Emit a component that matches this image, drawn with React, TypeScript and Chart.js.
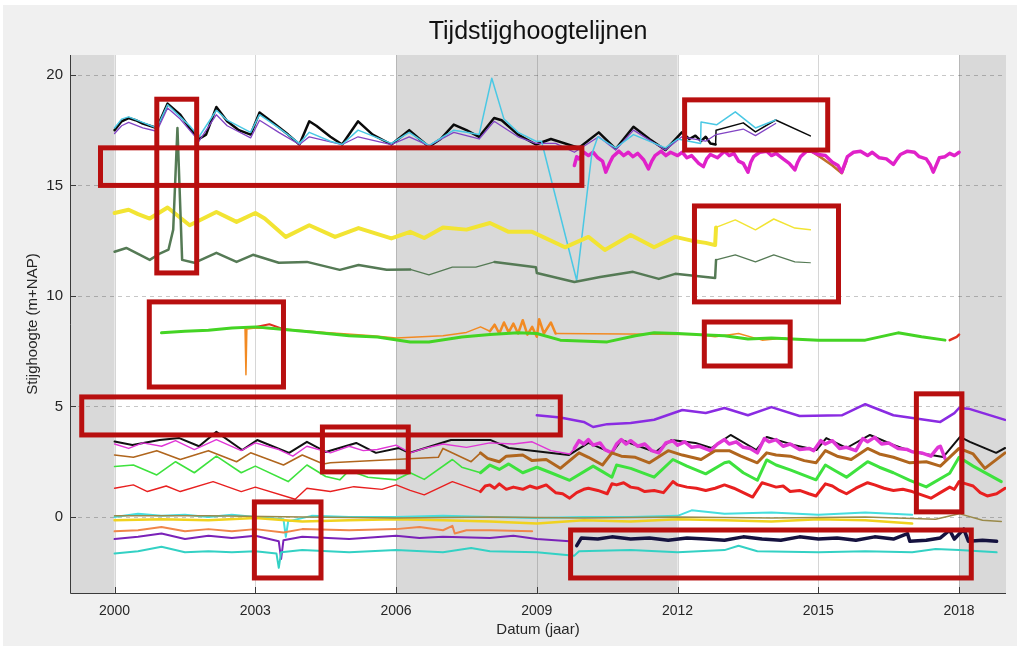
import React, { useEffect, useRef } from 'react';
import { Chart, registerables } from 'chart.js';

Chart.register(...registerables);

type Pts = [number, number][];

const TITLE = 'Tijdstijghoogtelijnen';
const X_LABEL = 'Datum (jaar)';
const Y_LABEL = 'Stijghoogte (m+NAP)';
const X_TICKS = [2000, 2003, 2006, 2009, 2012, 2015, 2018];
const Y_TICKS = [0, 5, 10, 15, 20];
const X_MIN = 1999.05;
const X_MAX = 2019.0;
const Y_MIN = -3.44;
const Y_MAX = 20.9;
const GREY_PERIODS: [number, number][] = [[1999.05, 2000], [2006, 2012], [2018, 2019]];
// [x1, x2, y1, y2] in data units
const HIGHLIGHT_BOXES: [number, number, number, number][] = [
  [2000.9, 2001.75, 11.04, 18.9],
  [1999.7, 2009.96, 15.0, 16.7],
  [2012.15, 2015.2, 16.6, 18.87],
  [2012.36, 2015.43, 9.73, 14.07],
  [2000.74, 2003.6, 5.88, 9.73],
  [2012.57, 2014.4, 6.83, 8.82],
  [1999.3, 2009.5, 3.71, 5.43],
  [2004.43, 2006.26, 2.04, 4.07],
  [2017.09, 2018.06, 0.23, 5.57],
  [2002.98, 2004.4, -2.76, 0.68],
  [2009.72, 2018.26, -2.76, -0.59],
];

// ---------- series (year, m+NAP) ----------
const topBlack: Pts = [[2000.0,17.5],[2000.15,17.9],[2000.3,18.05],[2000.45,17.95],[2000.6,17.8],[2000.9,17.6],[2001.13,18.7],[2001.4,18.2],[2001.6,17.6],[2001.8,17.1],[2001.95,17.3],[2002.17,18.55],[2002.4,17.9],[2002.65,17.5],[2002.9,17.3],[2003.09,18.3],[2003.4,17.8],[2003.7,17.3],[2003.94,16.85],[2004.15,17.9],[2004.3,17.7],[2004.6,17.2],[2004.85,16.85],[2005.19,17.9],[2005.5,17.3],[2005.9,16.85],[2006.28,17.5],[2006.5,17.1],[2006.7,16.75],[2006.95,17.1],[2007.23,17.75],[2007.5,17.5],[2007.77,17.2],[2008.09,18.05],[2008.25,17.95],[2008.6,17.3],[2008.98,16.85],[2009.3,17.1],[2009.9,16.7],[2010.32,17.4],[2010.68,16.65],[2011.06,17.65],[2011.4,17.1],[2011.74,16.6],[2012.09,17.4],[2012.25,17.1],[2012.38,17.25],[2012.5,17.0],[2012.6,17.2],[2012.7,16.9],[2012.81,16.85],[2012.82,17.5],[2013.4,17.83],[2013.66,17.42],[2014.09,17.96],[2014.83,17.24]];
const topCyan: Pts = [[2000.0,17.6],[2000.15,18.0],[2000.3,18.1],[2000.6,17.85],[2000.9,17.6],[2001.13,18.65],[2001.4,18.1],[2001.6,17.7],[2001.8,17.2],[2002.17,18.4],[2002.4,17.95],[2002.9,17.4],[2003.09,18.2],[2003.5,17.6],[2003.94,16.9],[2004.15,17.4],[2004.6,17.0],[2004.85,16.85],[2005.19,17.5],[2005.9,16.9],[2006.28,17.4],[2006.7,16.8],[2007.0,17.2],[2007.23,17.5],[2007.5,17.4],[2007.77,17.3],[2008.04,19.85],[2008.3,18.0],[2008.6,17.4],[2008.98,17.0],[2009.1,17.0],[2009.85,10.7],[2010.17,16.4],[2010.3,17.2],[2010.68,16.7],[2011.06,17.3],[2011.74,16.7],[2012.0,17.1],[2012.49,16.9],[2012.5,17.87],[2012.83,17.74],[2013.23,18.33],[2013.66,17.6],[2014.09,17.96]];
const topPurple: Pts = [[2000.0,17.35],[2000.15,17.7],[2000.3,17.85],[2000.6,17.6],[2000.9,17.45],[2001.13,18.5],[2001.4,18.0],[2001.6,17.5],[2001.8,17.0],[2002.17,18.2],[2002.4,17.7],[2002.9,17.15],[2003.09,17.95],[2003.5,17.4],[2003.94,16.85],[2004.15,17.2],[2004.85,16.85],[2005.19,17.2],[2005.9,16.85],[2006.28,17.2],[2006.7,16.8],[2007.23,17.4],[2007.77,17.1],[2008.09,17.9],[2008.6,17.2],[2008.98,16.9],[2009.4,16.9],[2009.8,16.5],[2010.32,17.2],[2010.68,16.6],[2011.06,17.5],[2011.74,16.6],[2012.09,17.2],[2012.6,17.0],[2012.82,17.3],[2013.4,17.55],[2013.66,17.25],[2014.09,17.8]];
const topMagenta: Pts = [[2009.8,15.9],[2009.85,16.3],[2009.9,16.2],[2010.0,16.5],[2010.1,16.35],[2010.2,16.5],[2010.3,16.25],[2010.4,16.1],[2010.47,15.6],[2010.55,16.0],[2010.62,16.3],[2010.75,16.55],[2010.85,16.35],[2010.95,16.5],[2011.05,16.3],[2011.15,16.45],[2011.28,16.15],[2011.38,15.75],[2011.45,16.1],[2011.52,16.35],[2011.65,16.55],[2011.75,16.35],[2011.85,16.5],[2012.0,16.35],[2012.1,16.5],[2012.2,16.25],[2012.3,16.35],[2012.45,16.0],[2012.55,15.85],[2012.62,16.2],[2012.7,16.4],[2012.85,16.25],[2013.0,16.55],[2013.1,16.35],[2013.2,16.45],[2013.3,16.1],[2013.4,16.0],[2013.5,15.6],[2013.56,16.05],[2013.62,16.3],[2013.75,16.5],[2013.9,16.55],[2014.0,16.35],[2014.1,16.45],[2014.25,16.2],[2014.38,16.0],[2014.5,15.7],[2014.56,16.05],[2014.62,16.3],[2014.75,16.55],[2014.85,16.55],[2015.0,16.4],[2015.15,16.35],[2015.3,16.05],[2015.42,15.9],[2015.5,15.6],[2015.56,15.95],[2015.62,16.3],[2015.75,16.5],[2015.9,16.55],[2016.05,16.35],[2016.15,16.5],[2016.3,16.25],[2016.45,16.2],[2016.6,15.95],[2016.68,16.2],[2016.75,16.4],[2016.9,16.55],[2017.05,16.5],[2017.15,16.3],[2017.3,16.2],[2017.38,15.95],[2017.45,15.6],[2017.52,15.95],[2017.58,16.25],[2017.7,16.3],[2017.8,16.45],[2017.9,16.35],[2018.0,16.5]];
const topBrown: Pts = [[2014.85,16.55],[2015.1,16.2],[2015.3,15.9],[2015.5,15.55],[2015.6,16.1]];
const topYellow: Pts = [[2000.0,13.75],[2000.3,13.9],[2000.5,13.7],[2000.75,13.5],[2001.13,14.0],[2001.6,13.2],[2002.17,13.8],[2002.6,13.35],[2003.0,13.75],[2003.2,13.5],[2003.65,12.67],[2004.15,13.2],[2004.7,12.67],[2005.2,13.07],[2005.9,12.6],[2006.3,12.9],[2006.6,12.62],[2007.0,13.1],[2007.5,13.0],[2008.0,13.3],[2008.4,12.9],[2008.9,12.9],[2009.6,12.2],[2010.1,12.67],[2010.45,12.08],[2011.0,12.76],[2011.5,12.2],[2011.95,12.67],[2012.3,12.5],[2012.6,12.4],[2012.8,12.3],[2012.82,13.1],[2013.23,13.44],[2013.66,12.99],[2014.05,13.48],[2014.5,13.07],[2014.83,12.99]];
const darkGreen: Pts = [[2000.0,12.0],[2000.25,12.17],[2000.5,11.9],[2000.75,11.63],[2000.95,11.9],[2001.15,12.1],[2001.25,13.0],[2001.34,17.6],[2001.44,11.63],[2001.7,11.5],[2002.17,11.95],[2002.6,11.54],[2002.95,11.86],[2003.5,11.5],[2004.1,11.54],[2004.8,11.18],[2005.2,11.4],[2005.8,11.18],[2006.3,11.2],[2006.7,10.95],[2007.2,11.3],[2007.7,11.3],[2008.1,11.54],[2008.98,11.3],[2009.0,11.04],[2009.8,10.63],[2010.35,10.86],[2011.05,11.09],[2011.6,10.77],[2011.95,11.0],[2012.8,10.81],[2012.82,11.63],[2013.23,11.86],[2013.66,11.54],[2014.05,11.86],[2014.5,11.54],[2014.83,11.5]];
const midGreen: Pts = [[2001.0,8.33],[2001.5,8.4],[2002.0,8.45],[2002.5,8.55],[2003.0,8.6],[2003.5,8.5],[2004.2,8.37],[2005.0,8.2],[2005.6,8.14],[2006.3,7.92],[2006.7,7.92],[2007.4,8.14],[2008.0,8.25],[2008.6,8.33],[2009.0,8.3],[2009.5,8.0],[2010.5,7.92],[2011.1,8.2],[2011.5,8.33],[2012.0,8.3],[2012.5,8.24],[2013.0,8.2],[2013.5,8.05],[2014.0,8.1],[2015.0,8.0],[2016.0,8.0],[2016.7,8.33],[2017.2,8.15],[2017.7,8.0]];
const midOrange: Pts = [[2002.7,8.55],[2002.78,8.55],[2002.8,6.43],[2002.82,8.5],[2003.0,8.55],[2003.6,8.5],[2004.5,8.35],[2005.5,8.2],[2006.0,8.1],[2007.0,8.2],[2007.5,8.35],[2007.8,8.6],[2008.0,8.4],[2008.1,8.7],[2008.2,8.3],[2008.3,8.8],[2008.4,8.35],[2008.5,8.75],[2008.6,8.3],[2008.7,8.9],[2008.8,8.25],[2008.9,8.6],[2009.0,8.15],[2009.05,8.95],[2009.15,8.3],[2009.3,8.8],[2009.4,8.3],[2012.4,8.25],[2012.8,8.15],[2013.3,8.3],[2013.8,8.0],[2014.3,8.1]];
const midRed: Pts = [[2002.9,8.55],[2003.3,8.72],[2003.6,8.5]];
const midRedEnd: Pts = [[2017.8,8.0],[2017.95,8.15],[2018.0,8.25]];
const violet: Pts = [[2009.0,4.6],[2009.5,4.5],[2010.0,4.3],[2010.2,4.07],[2010.5,4.2],[2011.0,4.25],[2011.5,4.4],[2012.1,4.84],[2012.6,4.7],[2013.0,4.93],[2013.5,4.6],[2014.0,4.97],[2014.6,4.57],[2015.5,4.6],[2016.0,5.1],[2016.6,4.6],[2017.6,4.3],[2017.9,4.7],[2018.0,4.93],[2018.2,4.9],[2018.98,4.39]];
const lowBlack: Pts = [[2000.0,3.41],[2000.38,3.26],[2000.96,3.48],[2001.38,3.57],[2001.8,3.2],[2002.17,3.85],[2002.72,3.03],[2003.04,3.48],[2003.72,2.9],[2004.1,3.4],[2004.5,2.94],[2005.15,3.35],[2005.57,2.9],[2006.06,3.12],[2006.28,2.9],[2007.17,3.48],[2008.02,3.48],[2008.4,3.12],[2009.68,2.8],[2010.1,3.35],[2010.6,2.9],[2010.8,3.48],[2011.53,2.94],[2011.87,3.48],[2012.38,3.35],[2012.72,3.12],[2013.13,3.71],[2013.68,3.03],[2013.9,3.62],[2014.47,3.26],[2014.96,3.03],[2015.17,3.57],[2015.6,3.12],[2016.1,3.71],[2016.6,3.26],[2017.02,2.94],[2017.66,2.71],[2018.02,3.62],[2018.23,3.4],[2018.79,2.9],[2018.98,3.12]];
const lowMagenta: Pts = [[2000.0,3.3],[2000.3,3.1],[2000.6,3.35],[2001.0,3.2],[2001.3,3.45],[2001.7,3.05],[2002.17,3.5],[2002.7,3.0],[2003.0,3.35],[2003.5,3.05],[2003.8,2.75],[2004.1,3.2],[2004.6,2.9],[2005.0,3.2],[2005.3,3.0],[2005.6,3.05],[2006.0,3.25],[2006.3,2.9],[2006.6,3.1],[2007.0,3.3],[2007.5,3.15],[2008.0,3.35],[2008.5,3.3],[2008.9,3.4],[2009.3,3.0],[2009.7,2.85],[2009.8,3.1],[2009.9,3.45],[2010.0,3.3],[2010.1,3.5],[2010.2,3.25],[2010.35,3.35],[2010.45,3.05],[2010.6,2.9],[2010.7,3.3],[2010.8,3.5],[2010.9,3.3],[2011.0,3.45],[2011.15,3.2],[2011.3,3.3],[2011.45,3.0],[2011.6,2.9],[2011.75,3.35],[2011.9,3.45],[2012.0,3.25],[2012.15,3.4],[2012.3,3.15],[2012.45,3.2],[2012.7,3.0],[2012.85,3.3],[2013.0,3.5],[2013.1,3.3],[2013.25,3.4],[2013.4,3.15],[2013.55,3.1],[2013.7,2.9],[2013.85,3.55],[2013.95,3.4],[2014.1,3.5],[2014.25,3.2],[2014.4,3.3],[2014.6,3.05],[2014.8,3.1],[2014.9,3.0],[2015.05,3.45],[2015.15,3.3],[2015.3,3.45],[2015.45,3.1],[2015.6,3.15],[2015.8,3.0],[2015.95,3.55],[2016.05,3.4],[2016.2,3.6],[2016.35,3.3],[2016.5,3.35],[2016.7,3.1],[2016.9,3.05],[2017.0,2.95],[2017.2,2.9],[2017.4,2.75],[2017.55,3.15],[2017.6,3.2],[2017.7,2.65]];
const lowBrown: Pts = [[2000.0,2.8],[2000.4,2.7],[2000.9,3.0],[2001.4,2.6],[2002.0,3.0],[2002.6,2.5],[2002.9,2.9],[2003.6,2.35],[2004.0,2.8],[2004.45,2.4],[2004.6,2.45],[2006.9,2.7],[2007.0,3.1],[2007.6,2.5],[2007.8,2.9],[2007.95,2.65],[2008.2,2.5],[2008.35,2.75],[2008.7,2.8],[2008.9,2.55],[2009.2,2.6],[2009.5,2.2],[2009.9,2.9],[2010.1,2.7],[2010.4,2.35],[2010.6,2.9],[2010.8,2.75],[2011.1,2.7],[2011.4,2.45],[2011.8,3.0],[2012.1,2.8],[2012.5,2.6],[2012.8,3.0],[2013.1,3.0],[2013.35,2.75],[2013.7,2.45],[2013.9,2.9],[2014.1,2.8],[2014.4,2.75],[2014.7,2.55],[2014.95,2.45],[2015.15,3.0],[2015.4,2.75],[2015.7,2.6],[2016.05,3.1],[2016.3,2.85],[2016.6,2.7],[2016.95,2.45],[2017.3,2.5],[2017.6,2.3],[2018.0,3.1],[2018.3,2.85],[2018.55,2.2],[2018.98,2.9]];
const lowGreen: Pts = [[2000.0,2.28],[2000.4,2.35],[2000.9,1.9],[2001.3,2.5],[2001.7,2.0],[2002.17,2.75],[2002.7,2.0],[2003.0,2.3],[2003.7,1.6],[2004.1,2.35],[2004.5,1.83],[2004.8,1.68],[2005.0,2.1],[2005.4,1.8],[2006.0,1.68],[2006.3,2.0],[2006.6,1.7],[2007.2,2.6],[2007.4,2.25],[2007.8,2.0],[2008.0,2.35],[2008.2,2.15],[2008.4,2.4],[2008.7,2.0],[2009.0,2.25],[2009.3,2.0],[2009.7,1.66],[2010.2,2.3],[2010.4,2.05],[2010.6,1.8],[2010.7,2.35],[2011.0,2.2],[2011.5,1.8],[2011.9,2.6],[2012.2,2.3],[2012.6,1.95],[2013.0,2.45],[2013.1,2.5],[2013.4,2.0],[2013.7,1.66],[2013.9,2.58],[2014.1,2.35],[2014.4,2.13],[2014.95,1.68],[2015.15,2.35],[2015.35,2.1],[2015.6,1.8],[2016.05,2.5],[2016.3,2.25],[2016.6,2.0],[2016.95,1.66],[2017.3,1.36],[2017.8,1.98],[2018.0,2.7],[2018.3,2.3],[2018.9,1.6]];
const lowRed: Pts = [[2000.0,1.3],[2000.4,1.45],[2000.7,1.15],[2001.1,1.4],[2001.4,1.15],[2002.1,1.6],[2002.7,1.15],[2003.0,1.35],[2003.85,0.8],[2004.1,1.3],[2004.6,1.15],[2005.1,1.37],[2005.7,1.25],[2006.0,1.45],[2006.3,1.2],[2006.6,1.0],[2007.2,1.6],[2007.8,1.15],[2007.9,1.4],[2008.0,1.45],[2008.1,1.3],[2008.2,1.5],[2008.35,1.25],[2008.5,1.35],[2008.7,1.25],[2008.85,1.4],[2009.0,1.3],[2009.2,1.45],[2009.4,1.1],[2009.55,1.05],[2009.7,0.85],[2009.85,1.1],[2010.0,1.25],[2010.1,1.3],[2010.3,1.2],[2010.5,1.05],[2010.6,1.5],[2010.7,1.45],[2010.85,1.55],[2011.0,1.35],[2011.15,1.3],[2011.3,1.15],[2011.5,1.2],[2011.7,1.1],[2011.9,1.6],[2012.0,1.45],[2012.2,1.35],[2012.4,1.3],[2012.6,1.2],[2012.8,1.3],[2013.0,1.45],[2013.2,1.3],[2013.4,1.1],[2013.6,0.9],[2013.8,1.55],[2013.95,1.45],[2014.1,1.35],[2014.25,1.4],[2014.4,1.15],[2014.6,1.2],[2014.8,1.05],[2014.95,0.95],[2015.15,1.5],[2015.3,1.4],[2015.45,1.2],[2015.6,1.05],[2015.8,1.3],[2016.05,1.55],[2016.2,1.45],[2016.4,1.3],[2016.6,1.2],[2016.8,1.25],[2017.0,1.15],[2017.2,1.0],[2017.4,0.85],[2017.6,1.1],[2017.8,1.35],[2017.9,1.25],[2018.0,1.6],[2018.15,1.5],[2018.3,1.4],[2018.45,1.1],[2018.6,0.95],[2018.8,1.05],[2018.98,1.3]];
const zeroCyan: Pts = [[2000.0,0.0],[2000.5,0.15],[2001.0,0.05],[2001.5,0.1],[2002.0,0.0],[2002.5,0.1],[2003.0,0.0],[2003.6,-0.1],[2003.65,-0.9],[2003.7,-0.2],[2004.2,0.05],[2005.0,0.0],[2006.0,0.0],[2007.0,0.05],[2008.0,0.0],[2009.0,-0.05],[2010.0,0.0],[2011.0,0.0],[2012.0,0.05],[2012.3,0.3],[2013.0,0.15],[2014.0,0.2],[2015.0,0.1],[2016.0,0.2],[2017.0,0.1]];
const zeroYellow: Pts = [[2000.0,-0.15],[2001.0,-0.1],[2002.0,-0.15],[2003.0,-0.05],[2004.0,-0.2],[2005.0,-0.15],[2006.0,-0.1],[2007.0,-0.15],[2008.0,-0.2],[2009.0,-0.3],[2010.0,-0.15],[2011.0,-0.2],[2012.0,-0.1],[2013.0,-0.15],[2014.0,-0.2],[2015.0,-0.1],[2016.0,-0.15],[2017.0,-0.3]];
const zeroOlive: Pts = [[2000.0,0.05],[2002.0,0.05],[2004.0,0.0],[2006.0,-0.05],[2008.0,0.0],[2010.0,-0.05],[2012.0,0.0],[2014.0,-0.05],[2016.0,0.0],[2017.5,-0.1],[2018.0,0.15],[2018.5,-0.15],[2018.9,-0.2]];
const negOrange: Pts = [[2000.0,-0.65],[2000.5,-0.6],[2001.0,-0.45],[2001.5,-0.65],[2002.0,-0.55],[2002.5,-0.65],[2003.0,-0.55],[2003.6,-0.7],[2004.0,-0.55],[2005.0,-0.6],[2006.0,-0.55],[2006.5,-0.45],[2007.0,-0.6],[2007.2,-0.4],[2007.25,-0.75],[2007.5,-0.6],[2008.0,-0.6],[2008.9,-0.65]];
const negPurple: Pts = [[2000.0,-1.0],[2000.5,-0.9],[2001.0,-0.75],[2001.5,-1.0],[2002.0,-0.85],[2002.5,-0.95],[2003.0,-0.85],[2003.5,-1.1],[2003.55,-1.9],[2003.6,-1.05],[2004.0,-0.9],[2005.0,-1.0],[2006.0,-0.85],[2006.5,-0.95],[2007.0,-0.9],[2008.0,-0.95],[2008.5,-0.85],[2009.0,-1.0],[2009.7,-1.1]];
const negNavy: Pts = [[2009.85,-1.3],[2009.95,-0.95],[2010.3,-1.0],[2010.6,-0.9],[2011.0,-1.0],[2011.4,-0.95],[2011.8,-1.05],[2012.2,-0.95],[2012.6,-1.0],[2013.0,-1.05],[2013.4,-0.9],[2013.8,-1.0],[2014.2,-1.05],[2014.6,-0.9],[2015.0,-1.0],[2015.4,-0.95],[2015.8,-1.05],[2016.2,-0.9],[2016.6,-1.0],[2016.9,-0.75],[2016.95,-1.1],[2017.3,-1.05],[2017.6,-0.95],[2017.8,-0.6],[2017.9,-1.0],[2018.1,-0.55],[2018.2,-1.1],[2018.5,-1.05],[2018.8,-1.1]];
const negTeal: Pts = [[2000.0,-1.65],[2000.5,-1.55],[2001.0,-1.35],[2001.5,-1.6],[2002.0,-1.55],[2002.5,-1.6],[2003.0,-1.55],[2003.45,-1.65],[2003.5,-2.3],[2003.55,-1.6],[2004.0,-1.5],[2005.0,-1.6],[2006.0,-1.5],[2007.0,-1.6],[2007.6,-1.4],[2008.0,-1.55],[2009.0,-1.6],[2009.8,-1.75],[2009.9,-1.55],[2011.0,-1.5],[2012.0,-1.6],[2013.0,-1.5],[2013.3,-1.3],[2013.7,-1.55],[2015.0,-1.6],[2016.0,-1.55],[2017.0,-1.6],[2017.5,-1.45],[2018.0,-1.5],[2018.8,-1.6]];

// style: default width, plus [from, to, width] overrides
const SERIES: { pts: Pts; color: string; width: number; ranges?: [number, number, number][] }[] = [
  { pts: negTeal, color: '#33d1c4', width: 2 },
  { pts: negOrange, color: '#f0864a', width: 2 },
  { pts: negPurple, color: '#7a22b8', width: 2 },
  { pts: negNavy, color: '#15123f', width: 3.5 },
  { pts: zeroOlive, color: '#9a8a4a', width: 1.5 },
  { pts: zeroYellow, color: '#f0d21e', width: 2.5 },
  { pts: zeroCyan, color: '#45dede', width: 2 },
  { pts: lowRed, color: '#e82020', width: 1.4, ranges: [[2007.8, 2020, 3]] },
  { pts: lowGreen, color: '#3ee23e', width: 1.6, ranges: [[2007.8, 2020, 3]] },
  { pts: lowBrown, color: '#b0661e', width: 1.6, ranges: [[2007.8, 2020, 3]] },
  { pts: lowMagenta, color: '#e036d6', width: 1.4, ranges: [[2009.78, 2020, 3.5]] },
  { pts: lowBlack, color: '#111111', width: 2 },
  { pts: violet, color: '#8a2be2', width: 2.5 },
  { pts: midGreen, color: '#44d424', width: 3 },
  { pts: midOrange, color: '#f28a22', width: 1.5, ranges: [[2007.9, 2009.4, 2.5]] },
  { pts: midRed, color: '#e03020', width: 2 },
  { pts: midRedEnd, color: '#e03020', width: 2.5 },
  { pts: darkGreen, color: '#557a55', width: 2.5, ranges: [[2005.9, 2008.0, 1.3], [2012.81, 2020, 1.2]] },
  { pts: topYellow, color: '#f2e433', width: 4, ranges: [[2012.81, 2020, 1.5]] },
  { pts: topCyan, color: '#4ac8e4', width: 1.5 },
  { pts: topPurple, color: '#8244c4', width: 1.3 },
  { pts: topBlack, color: '#0a0a0a', width: 2.5, ranges: [[2012.81, 2020, 1.5]] },
  { pts: topMagenta, color: '#e021c9', width: 3.5 },
  { pts: topBrown, color: '#c0702a', width: 2.5 },
];

const FONT = '"Liberation Sans", Arial, Helvetica, sans-serif';
const TEXT = '#262626';

const decorPlugin = {
  id: 'decor',
  beforeDraw(chart: any) {
    const { ctx, chartArea: a, width, height } = chart;
    const xs = chart.scales.x;
    ctx.save();
    ctx.fillStyle = '#ffffff';
    ctx.fillRect(0, 0, width, height);
    ctx.fillStyle = '#f0f0f0';
    ctx.fillRect(3, 5, width - 6, height - 8);
    ctx.fillStyle = '#ffffff';
    ctx.fillRect(a.left, a.top, a.right - a.left, a.bottom - a.top);
    ctx.fillStyle = '#d9d9d9';
    for (const [s, e] of GREY_PERIODS) {
      const x1 = xs.getPixelForValue(s);
      const x2 = xs.getPixelForValue(e);
      ctx.fillRect(x1, a.top, x2 - x1, a.bottom - a.top);
    }
    ctx.restore();
  },
  beforeDatasetsDraw(chart: any) {
    const { ctx, chartArea: a } = chart;
    const xs = chart.scales.x;
    const ys = chart.scales.y;
    ctx.save();
    ctx.lineWidth = 1;
    ctx.strokeStyle = 'rgba(0,0,0,0.16)';
    ctx.setLineDash([]);
    for (const v of X_TICKS) {
      const x = Math.round(xs.getPixelForValue(v)) + 0.5;
      ctx.beginPath();
      ctx.moveTo(x, a.top);
      ctx.lineTo(x, a.bottom);
      ctx.stroke();
    }
    ctx.strokeStyle = 'rgba(0,0,0,0.22)';
    ctx.setLineDash([4, 4]);
    for (const v of Y_TICKS) {
      const y = Math.round(ys.getPixelForValue(v)) + 0.5;
      ctx.beginPath();
      ctx.moveTo(a.left, y);
      ctx.lineTo(a.right, y);
      ctx.stroke();
    }
    ctx.restore();
  },
  afterDatasetsDraw(chart: any) {
    const { ctx, chartArea: a } = chart;
    const xs = chart.scales.x;
    const ys = chart.scales.y;
    ctx.save();
    ctx.strokeStyle = '#b80f0f';
    ctx.lineWidth = 5;
    ctx.setLineDash([]);
    for (const [x1, x2, y1, y2] of HIGHLIGHT_BOXES) {
      const px1 = xs.getPixelForValue(x1);
      const px2 = xs.getPixelForValue(x2);
      const py1 = ys.getPixelForValue(y2);
      const py2 = ys.getPixelForValue(y1);
      ctx.strokeRect(px1, py1, px2 - px1, py2 - py1);
    }
    ctx.strokeStyle = '#3a3a3a';
    ctx.lineWidth = 1;
    ctx.beginPath();
    ctx.moveTo(a.left + 0.5, a.top);
    ctx.lineTo(a.left + 0.5, a.bottom + 0.5);
    ctx.lineTo(a.right, a.bottom + 0.5);
    ctx.stroke();
    ctx.beginPath();
    for (const v of X_TICKS) {
      const x = Math.round(xs.getPixelForValue(v)) + 0.5;
      ctx.moveTo(x, a.bottom);
      ctx.lineTo(x, a.bottom - 6);
    }
    for (const v of Y_TICKS) {
      const y = Math.round(ys.getPixelForValue(v)) + 0.5;
      ctx.moveTo(a.left, y);
      ctx.lineTo(a.left + 6, y);
    }
    ctx.stroke();
    ctx.fillStyle = '#111111';
    ctx.font = `25px ${FONT}`;
    ctx.textAlign = 'center';
    ctx.textBaseline = 'middle';
    ctx.fillText(TITLE, (a.left + a.right) / 2, 32);
    ctx.restore();
  },
};

export default function App() {
  const ref = useRef<HTMLCanvasElement | null>(null);
  useEffect(() => {
    if (!ref.current) return;
    const datasets = SERIES.map((s) => ({
      data: s.pts.map(([x, y]) => ({ x, y })),
      borderColor: s.color,
      borderWidth: s.width,
      pointRadius: 0,
      fill: false,
      tension: 0,
      borderJoinStyle: 'round' as const,
      borderCapStyle: 'round' as const,
      segment: {
        borderWidth: (c: any) => {
          const x = c.p0.parsed.x;
          for (const [f, t, w] of s.ranges || []) {
            if (x >= f && x < t) return w;
          }
          return s.width;
        },
      },
    }));
    const chart = new Chart(ref.current, {
      type: 'line',
      data: { datasets },
      options: {
        responsive: false,
        animation: false,
        layout: { padding: { top: 55, right: 14, left: 0, bottom: 0 } },
        plugins: { legend: { display: false }, tooltip: { enabled: false }, title: { display: false } },
        scales: {
          x: {
            type: 'linear',
            min: X_MIN,
            max: X_MAX,
            afterBuildTicks: (s: any) => {
              s.ticks = X_TICKS.map((v) => ({ value: v }));
            },
            afterFit: (s: any) => {
              s.height = 56;
            },
            grid: { display: false, drawTicks: false },
            border: { display: false },
            ticks: {
              autoSkip: false,
              maxRotation: 0,
              padding: 10,
              color: TEXT,
              font: { family: FONT, size: 14 },
              callback: (v: any) => String(v),
            },
            title: {
              display: true,
              text: X_LABEL,
              color: TEXT,
              font: { family: FONT, size: 15 },
              padding: { top: 0, bottom: 10 },
            },
          },
          y: {
            type: 'linear',
            min: Y_MIN,
            max: Y_MAX,
            afterBuildTicks: (s: any) => {
              s.ticks = Y_TICKS.map((v) => ({ value: v }));
            },
            afterFit: (s: any) => {
              s.width = 70;
            },
            grid: { display: false, drawTicks: false },
            border: { display: false },
            ticks: {
              autoSkip: false,
              padding: 7,
              color: TEXT,
              font: { family: FONT, size: 15 },
              callback: (v: any) => String(v),
            },
            title: {
              display: true,
              text: Y_LABEL,
              color: TEXT,
              font: { family: FONT, size: 15 },
              padding: { top: 24, bottom: 0 },
            },
          },
        },
      },
      plugins: [decorPlugin],
    });
    return () => chart.destroy();
  }, []);
  return (
    <div style={{ position: 'fixed', left: 0, top: 0, width: 1020, height: 649 }}>
      <canvas ref={ref} width={1020} height={649} style={{ width: 1020, height: 649, display: 'block' }} />
    </div>
  );
}
